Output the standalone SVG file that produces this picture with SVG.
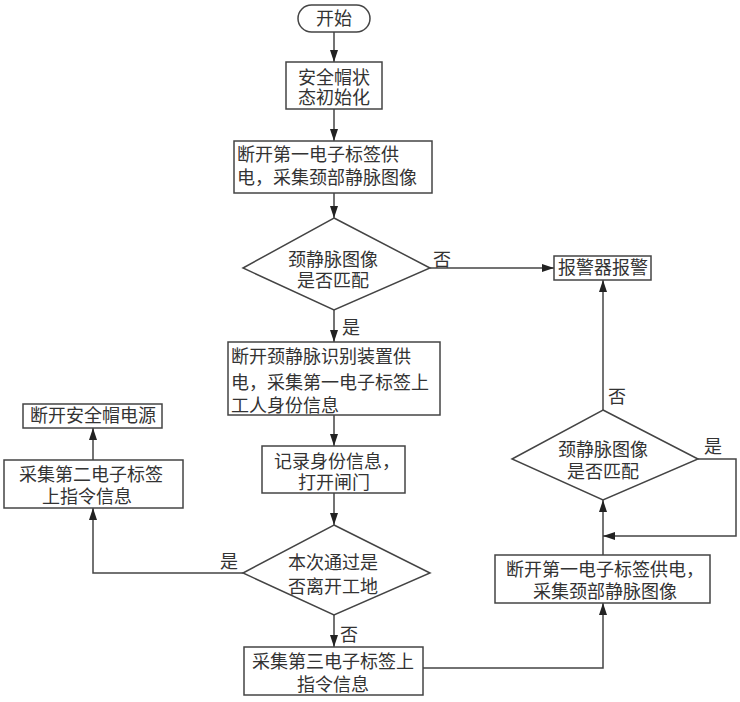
<svg xmlns="http://www.w3.org/2000/svg" width="740" height="702" viewBox="0 0 740 702">
<style>
.n{fill:#fff;stroke:#444;stroke-width:1.5}
.t{font-family:"Liberation Serif","Noto Sans CJK SC",serif;font-size:18px;fill:#333}
.c{text-anchor:middle}
.e{fill:none;stroke:#444;stroke-width:1.5;marker-end:url(#a)}
</style>
<defs>
<marker id="a" viewBox="0 0 12 8" refX="12" refY="4" markerWidth="12" markerHeight="8" markerUnits="userSpaceOnUse" orient="auto">
<path d="M0,0 L12,4 L0,8 Z" fill="#222"/>
</marker>
</defs>
<rect width="740" height="702" fill="#fff"/>
<g id="connectors">
<path class="e" d="M334,32 V62"/>
<path class="e" d="M334,109 V141"/>
<path class="e" d="M334,193 V218"/>
<path class="e" d="M334,310 V342"/>
<path class="e" d="M334,415 V446"/>
<path class="e" d="M334,493 V525"/>
<path class="e" d="M334,615 V647"/>
<path class="e" d="M430,268 H554"/>
<path class="e" d="M243,573 H93 V508"/>
<path class="e" d="M93,460 V428"/>
<path class="e" d="M423,668 H603 V603"/>
<path class="e" d="M603,555 V500"/>
<path class="e" d="M698,459 H736 V536 H603"/>
<path class="e" d="M603,410 V280"/>
<text class="t" x="433" y="266">否</text>
<text class="t" x="342" y="334">是</text>
<text class="t" x="340" y="641">否</text>
<text class="t" x="220" y="568">是</text>
<text class="t" x="704" y="453">是</text>
<text class="t" x="608" y="403">否</text>
</g>
<g id="start">
<rect class="n" x="298" y="5" width="72" height="27" rx="13.5"/>
<text class="t c" x="334" y="25">开始</text>
</g>
<g id="init">
<rect class="n" x="286" y="62" width="96" height="47"/>
<text class="t c" x="334" y="84">安全帽状</text>
<text class="t c" x="334" y="104">态初始化</text>
</g>
<g id="cut1">
<rect class="n" x="234" y="141" width="198" height="52"/>
<text class="t" x="237" y="161">断开第一电子标签供</text>
<text class="t" x="237" y="184">电，采集颈部静脉图像</text>
</g>
<g id="match1">
<polygon class="n" points="334,218 430,268 334,310 243,268"/>
<text class="t c" x="333" y="266">颈静脉图像</text>
<text class="t c" x="333" y="287">是否匹配</text>
</g>
<g id="alarm">
<rect class="n" x="554" y="256" width="97" height="24"/>
<text class="t c" x="603" y="274">报警器报警</text>
</g>
<g id="cut2">
<rect class="n" x="228" y="342" width="212" height="73"/>
<text class="t" x="231" y="363">断开颈静脉识别装置供</text>
<text class="t" x="231" y="389">电，采集第一电子标签上</text>
<text class="t" x="231" y="412">工人身份信息</text>
</g>
<g id="record">
<rect class="n" x="262" y="446" width="143" height="47"/>
<text class="t c" x="337" y="468">记录身份信息，</text>
<text class="t c" x="334" y="489">打开闸门</text>
</g>
<g id="leave">
<polygon class="n" points="334,525 430,573 334,615 243,573"/>
<text class="t c" x="333" y="569">本次通过是</text>
<text class="t c" x="333" y="593">否离开工地</text>
</g>
<g id="tag3">
<rect class="n" x="244" y="647" width="179" height="48"/>
<text class="t c" x="333" y="668">采集第三电子标签上</text>
<text class="t c" x="333" y="691">指令信息</text>
</g>
<g id="tag2">
<rect class="n" x="4" y="460" width="179" height="48"/>
<text class="t c" x="91" y="481">采集第二电子标签</text>
<text class="t c" x="87" y="503">上指令信息</text>
</g>
<g id="poweroff">
<rect class="n" x="23" y="404" width="139" height="24"/>
<text class="t c" x="93" y="422">断开安全帽电源</text>
</g>
<g id="cut3">
<rect class="n" x="495" y="555" width="215" height="48"/>
<text class="t c" x="605" y="576">断开第一电子标签供电，</text>
<text class="t c" x="605" y="598">采集颈部静脉图像</text>
</g>
<g id="match2">
<polygon class="n" points="603,410 698,459 603,500 512,459"/>
<text class="t c" x="603" y="456">颈静脉图像</text>
<text class="t c" x="603" y="478">是否匹配</text>
</g>
</svg>
